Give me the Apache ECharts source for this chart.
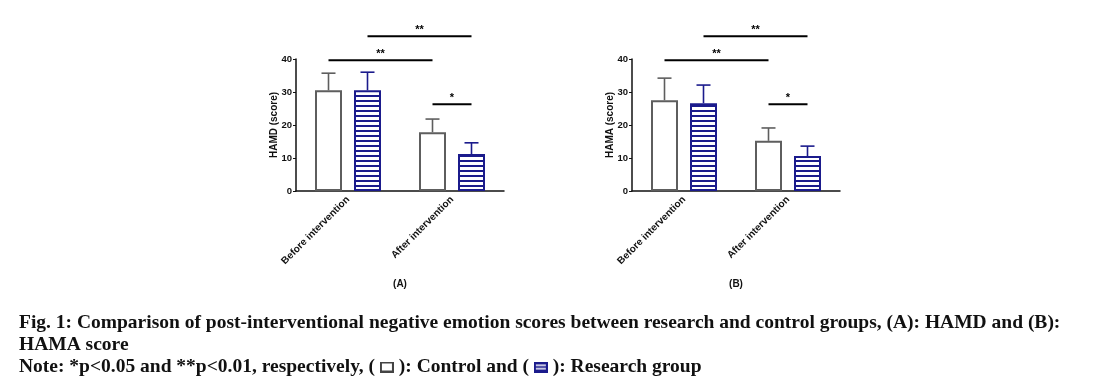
<!DOCTYPE html>
<html>
<head>
<meta charset="utf-8">
<script src="https://cdn.jsdelivr.net/npm/echarts@6/dist/echarts.min.js"></script>
<style>html,body{margin:0;padding:0;background:#fff;}#c{width:1106px;height:389px;}</style>
</head>
<body>
<div id="c"></div>
<script>
// ---------- DATA ----------
var categories = ['Before intervention', 'After intervention'];
var yTicks = [0, 10, 20, 30, 40];
// Panel A: HAMD
var hamdControl = [30.5, 17.8];
var hamdControlErr = [35.7, 21.8];   // top of error bar
var hamdResearch = [30.5, 11.2];
var hamdResearchErr = [36.0, 14.6];
// Panel B: HAMA
var hamaControl = [27.5, 15.2];
var hamaControlErr = [34.2, 19.1];
var hamaResearch = [26.6, 10.6];
var hamaResearchErr = [32.1, 13.6];
// significance brackets: [fromCategory, fromGroup], [toCategory, toGroup], height, label
var sigFrom = [[0, 0], [0, 1], [1, 0]];
var sigTo = [[1, 0], [1, 1], [1, 1]];
var sigHeight = [39.6, 46.9, 26.3];
var sigLabel = ['**', '**', '*'];

// ---------- STYLE ----------
var GRAY = '#5e5e5e';
var NAVY = '#1b1b8c';
var BARW = 27, HALF = 19.5; // bar width and group offset in px

function stripeCanvas() {
  var c = document.createElement('canvas');
  c.width = 4; c.height = 5;
  var g = c.getContext('2d');
  g.fillStyle = '#fff'; g.fillRect(0, 0, 4, 5);
  g.fillStyle = NAVY; g.fillRect(0, 0, 4, 2);
  return c;
}
function iconCanvas(kind) {
  var c = document.createElement('canvas');
  c.width = 14; c.height = 11;
  var g = c.getContext('2d');
  g.fillStyle = '#fff'; g.fillRect(0, 0, 14, 11);
  if (kind === 'ctrl') {
    g.strokeStyle = '#444'; g.lineWidth = 2; g.strokeRect(1, 1, 12, 9);
  } else {
    g.fillStyle = NAVY; g.fillRect(0, 0, 14, 11);
    g.fillStyle = '#fff'; g.fillRect(2, 3, 10, 1.5); g.fillRect(2, 6.5, 10, 1.5);
  }
  return c;
}
var stripe = stripeCanvas();

function errSeries(idx, ctrlErr, resErr, ctrlVal, resVal) {
  var data = [];
  for (var i = 0; i < categories.length; i++) {
    data.push([i, ctrlVal[i], ctrlErr[i], 0]);
    data.push([i, resVal[i], resErr[i], 1]);
  }
  return {
    type: 'custom', xAxisIndex: idx, yAxisIndex: idx, z: 5, silent: true,
    data: data,
    renderItem: function (params, api) {
      var g = api.value(3);
      var off = g === 0 ? -HALF : HALF;
      var p0 = api.coord([api.value(0), api.value(1)]);
      var p1 = api.coord([api.value(0), api.value(2)]);
      var x = p0[0] + off;
      var col = g === 0 ? GRAY : NAVY;
      return {
        type: 'group', children: [
          { type: 'line', shape: { x1: x, y1: p0[1], x2: x, y2: p1[1] }, style: { stroke: col, lineWidth: 1.6 } },
          { type: 'line', shape: { x1: x - 7, y1: p1[1], x2: x + 7, y2: p1[1] }, style: { stroke: col, lineWidth: 1.6 } }
        ]
      };
    }
  };
}
function sigSeries(idx) {
  var data = [];
  for (var i = 0; i < sigHeight.length; i++) {
    data.push([sigFrom[i][0], sigFrom[i][1], sigTo[i][0], sigTo[i][1], sigHeight[i], i]);
  }
  return {
    type: 'custom', xAxisIndex: idx, yAxisIndex: idx, z: 6, clip: false, silent: true,
    data: data,
    renderItem: function (params, api) {
      var a = api.coord([api.value(0), api.value(4)]);
      var b = api.coord([api.value(2), api.value(4)]);
      var xa = a[0] + (api.value(1) === 0 ? -HALF : HALF);
      var xb = b[0] + (api.value(3) === 0 ? -HALF : HALF);
      return {
        type: 'group', children: [
          { type: 'line', shape: { x1: xa, y1: a[1], x2: xb, y2: a[1] }, style: { stroke: '#000', lineWidth: 2 } },
          { type: 'text', x: (xa + xb) / 2, y: a[1] - 1, style: { text: sigLabel[api.value(5)], fill: '#000', font: 'bold 11px "Liberation Sans", Arial', align: 'center', verticalAlign: 'bottom' } }
        ]
      };
    }
  };
}
function barSeries(idx, vals, research) {
  return {
    type: 'bar', xAxisIndex: idx, yAxisIndex: idx, data: vals, barWidth: BARW, barGap: (12 / BARW * 100) + '%',
    silent: true, z: 3,
    itemStyle: research
      ? { color: { image: stripe, repeat: 'repeat' }, borderColor: NAVY, borderWidth: 2 }
      : { color: '#fff', borderColor: GRAY, borderWidth: 2 }
  };
}
var axFont = { color: '#111', fontSize: 10, fontWeight: 'bold', fontFamily: 'Liberation Sans, Arial' };
function xAx(idx, name) {
  return {
    type: 'category', gridIndex: idx, data: categories,
    axisLine: { lineStyle: { color: '#111', width: 1.5 } },
    axisTick: { alignWithLabel: true, length: 3, lineStyle: { color: '#111' } },
    axisLabel: Object.assign({ rotate: 45, margin: 7 }, axFont),
    name: name, nameLocation: 'middle', nameGap: 88,
    nameTextStyle: axFont
  };
}
function yAx(idx, name) {
  return {
    type: 'value', gridIndex: idx, min: yTicks[0], max: yTicks[yTicks.length - 1], interval: yTicks[1] - yTicks[0],
    splitLine: { show: false },
    axisLine: { show: true, lineStyle: { color: '#111', width: 1.5 } },
    axisTick: { show: true, length: 3, lineStyle: { color: '#111' } },
    axisLabel: Object.assign({ margin: 4 }, axFont, { fontSize: 9.5 }),
    name: name, nameLocation: 'middle', nameRotate: 90, nameGap: 17, nameMoveOverlap: false,
    nameTextStyle: axFont
  };
}

var chart = echarts.init(document.getElementById('c'), null, { renderer: 'canvas' });
var capFont = 'bold 19.5px "Liberation Serif", "Times New Roman", serif';
chart.setOption({
  animation: false,
  backgroundColor: '#fff',
  grid: [
    { left: 296, width: 208, top: 59, height: 132 },
    { left: 632, width: 208, top: 59, height: 132 }
  ],
  xAxis: [xAx(0, '(A)'), xAx(1, '(B)')],
  yAxis: [yAx(0, 'HAMD (score)'), yAx(1, 'HAMA (score)')],
  series: [
    barSeries(0, hamdControl, false), barSeries(0, hamdResearch, true),
    barSeries(1, hamaControl, false), barSeries(1, hamaResearch, true),
    errSeries(0, hamdControlErr, hamdResearchErr, hamdControl, hamdResearch),
    errSeries(1, hamaControlErr, hamaResearchErr, hamaControl, hamaResearch),
    sigSeries(0), sigSeries(1)
  ],
  graphic: [
    { type: 'text', left: 19, top: 313, style: { text: 'Fig. 1: Comparison of post-interventional negative emotion scores between research and control groups, (A): HAMD and (B):', font: capFont, fill: '#111' } },
    { type: 'text', left: 19, top: 335, style: { text: 'HAMA score', font: capFont, fill: '#111' } },
    { type: 'text', left: 19, top: 357, style: {
        text: 'Note: *p<0.05 and **p<0.01, respectively, ( {c|} ): Control and ( {r|} ): Research group',
        font: capFont, fill: '#111',
        rich: {
          c: { width: 14, height: 11, backgroundColor: { image: iconCanvas('ctrl') } },
          r: { width: 14, height: 11, backgroundColor: { image: iconCanvas('res') } }
        }
    } }
  ]
});
</script>
</body>
</html>
